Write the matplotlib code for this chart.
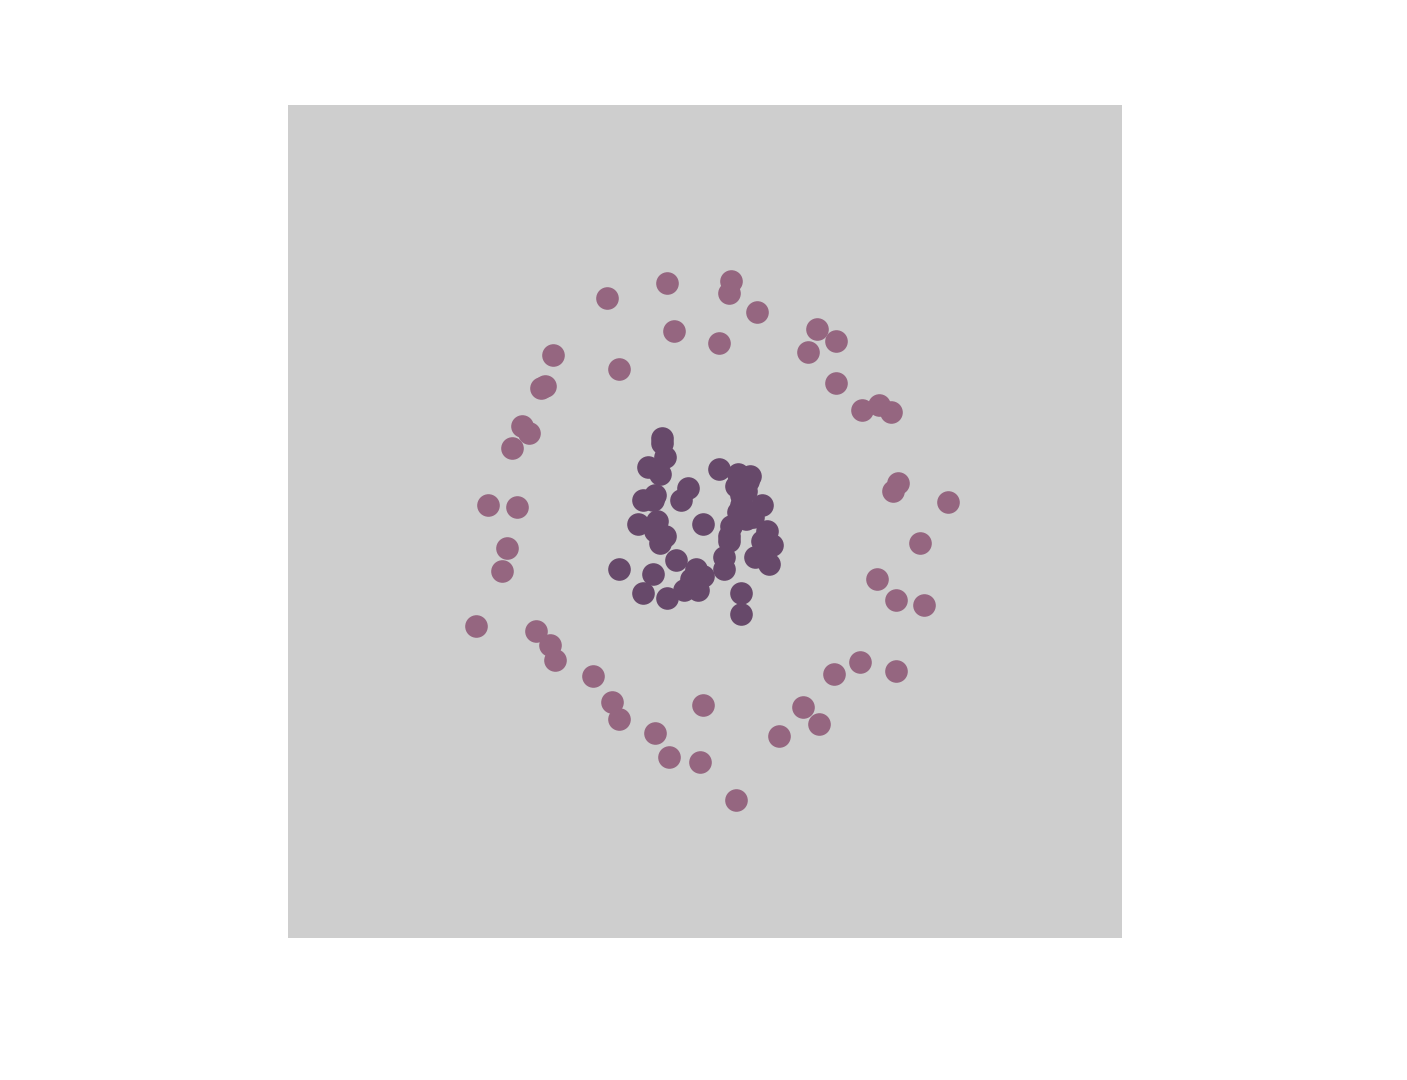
import matplotlib
matplotlib.use("Agg")
import matplotlib.pyplot as plt

outer_x = [-0.41, -0.16, 0.11, 0.10, 0.22, -0.13, 0.06, 0.47, 0.55, 0.43,
           0.55, 0.66, 0.73, 0.78, -0.64, -0.36, -0.67, -0.69, -0.77, -0.74,
           -0.81, -0.91, -0.79, -0.83, -0.85, -0.96, -0.71, -0.65, -0.63, -0.47,
           -0.39, -0.36, -0.21, -0.15, -0.02, -0.01, 0.13, 0.31, 0.41, 0.48,
           0.54, 0.65, 0.80, 0.72, 0.80, 0.92, 0.90, 1.02, 0.81, 0.79]
outer_y = [0.94, 1.00, 1.01, 0.96, 0.88, 0.80, 0.75, 0.81, 0.76, 0.71,
           0.58, 0.47, 0.49, 0.46, 0.70, 0.64, 0.57, 0.56, 0.40, 0.37,
           0.31, 0.07, 0.06, -0.11, -0.21, -0.44, -0.46, -0.52, -0.58, -0.65,
           -0.76, -0.83, -0.89, -0.99, -1.01, -0.77, -1.17, -0.90, -0.78, -0.85,
           -0.64, -0.59, -0.63, -0.24, -0.33, -0.35, -0.09, 0.08, 0.16, 0.13]

inner_x = [-0.18, -0.17, -0.24, -0.19, -0.07, -0.10, -0.26, -0.21, -0.28, -0.20,
           -0.17, -0.19, -0.01, 0.06, 0.14, 0.19, 0.13, 0.17, 0.24, 0.15,
           0.20, 0.11, 0.26, 0.28, 0.10, 0.21, 0.27, 0.08, 0.08, -0.12,
           -0.04, -0.01, -0.03, -0.09, -0.16, -0.22, -0.26, -0.36, 0.15, 0.15,
           0.15, 0.14, 0.10, 0.17, -0.22, -0.21, -0.06, 0.18, -0.18, 0.24]
inner_y = [0.35, 0.27, 0.23, 0.20, 0.14, 0.09, 0.09, 0.11, -0.01, 0.00,
           -0.06, -0.09, -0.01, 0.22, 0.20, 0.19, 0.15, 0.13, 0.07, 0.07,
           0.02, -0.02, -0.04, -0.10, -0.08, -0.15, -0.18, -0.15, -0.20, -0.16,
           -0.20, -0.23, -0.29, -0.29, -0.32, -0.22, -0.30, -0.20, -0.30, -0.39,
           0.11, 0.04, -0.06, 0.01, 0.09, -0.04, -0.24, 0.17, 0.33, -0.08]

outer_color = "#956680"
inner_color = "#67496A"
bg_color = "#CECECE"

fig = plt.figure(figsize=(14.07, 10.8), dpi=100)
ax = fig.add_axes([0.2047, 0.1315, 0.5928, 0.7713])
ax.set_facecolor(bg_color)
ax.scatter(outer_x, outer_y, s=265, color=outer_color, linewidths=0)
ax.scatter(inner_x, inner_y, s=265, color=inner_color, linewidths=0)
ax.set_xlim(-1.75, 1.75)
ax.set_ylim(-1.75, 1.75)
ax.set_xticks([])
ax.set_yticks([])
for s in ax.spines.values():
    s.set_visible(False)
fig.savefig("out.png", dpi=100)
